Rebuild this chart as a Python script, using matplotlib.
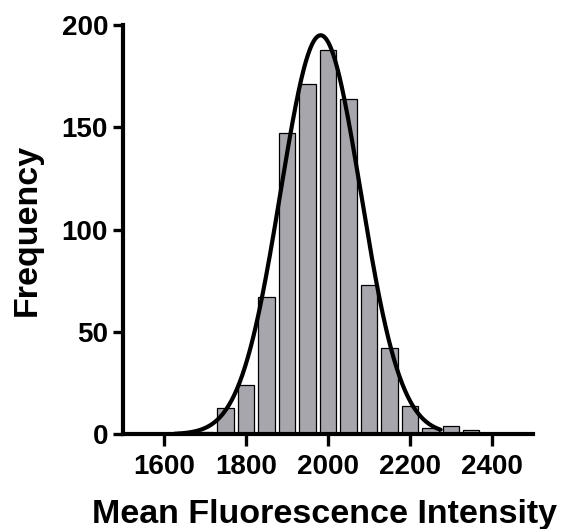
import numpy as np
import matplotlib
matplotlib.use("Agg")
import matplotlib.pyplot as plt

plt.rcParams['font.family'] = ['Liberation Sans', 'DejaVu Sans']
plt.rcParams['font.weight'] = 'bold'

# Histogram data (bin centers and counts)
bin_centers = [1650, 1700, 1750, 1800, 1850, 1900, 1950, 2000, 2050, 2100, 2150, 2200, 2250, 2300, 2350]
counts = [1, 1, 13, 24, 67, 147, 171, 188, 164, 73, 42, 14, 3, 4, 2]

# Gaussian fit parameters
fit_amplitude = 195
fit_mean = 1982
fit_sd = 98
fit_range = (1625, 2275)

x_ticks = [1600, 1800, 2000, 2200, 2400]
y_ticks = [0, 50, 100, 150, 200]

W, H = 566, 529
fig = plt.figure(figsize=(W / 100, H / 100), dpi=100)
ax = fig.add_axes([0.2179, 0.179, 0.7233, 0.7737])

ax.bar(bin_centers, counts, width=40, color='#a7a6ad', edgecolor='black', linewidth=0.9, zorder=2)

xs = np.linspace(fit_range[0], fit_range[1], 400)
ys = fit_amplitude * np.exp(-(xs - fit_mean) ** 2 / (2 * fit_sd ** 2))
ax.plot(xs, ys, color='black', lw=3, zorder=3, clip_on=False, solid_capstyle='round')

ax.set_xlim(1500, 2500)
ax.set_ylim(0, 200)
ax.set_xticks(x_ticks)
ax.set_yticks(y_ticks)

for s in ['top', 'right']:
    ax.spines[s].set_visible(False)
for s in ['left', 'bottom']:
    ax.spines[s].set_linewidth(3)
    ax.spines[s].set_zorder(4)

ax.tick_params(axis='x', length=8.5, width=2.4, pad=6, labelsize=20)
ax.tick_params(axis='y', length=7, width=2.4, pad=4, labelsize=20)
for lab in ax.get_xticklabels() + ax.get_yticklabels():
    lab.set_fontweight('bold')

fig.text(324 / W, (H - 523) / H, 'Mean Fluorescence Intensity', fontsize=24.5,
         fontweight='bold', ha='center', va='baseline')
fig.text(27 / W, 1 - 230 / H, 'Frequency', fontsize=24.5, fontweight='bold',
         rotation=90, ha='center', va='center')

fig.savefig('out.png', dpi=100)
